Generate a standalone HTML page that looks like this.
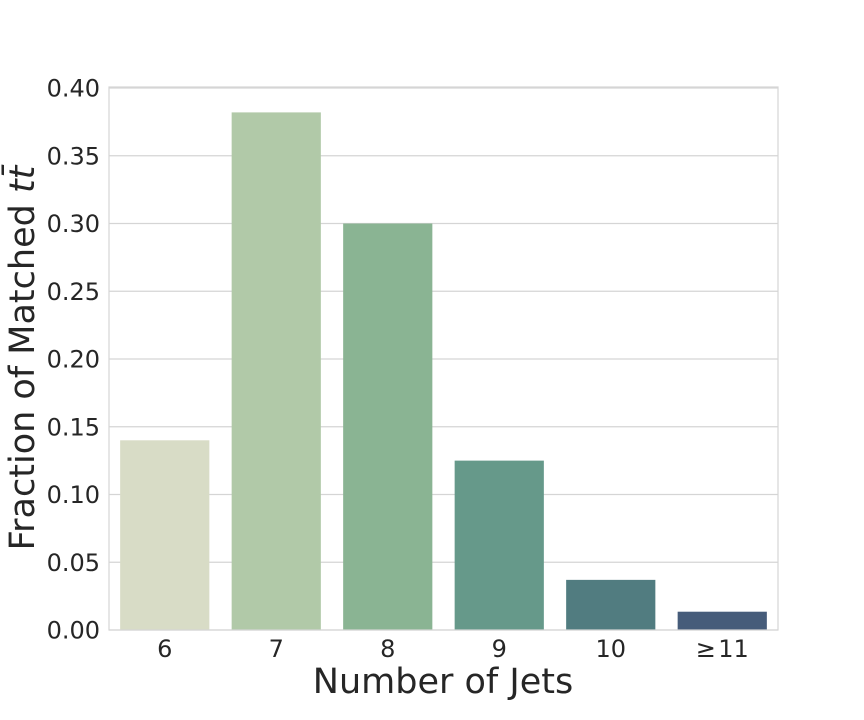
<!DOCTYPE html>
<html><head><meta charset="utf-8"><style>body{margin:0;background:#fff}svg{display:block}text{font-family:"DejaVu Sans","Liberation Sans",sans-serif;fill:#262626}</style></head>
<body>
<svg id="chart" width="864" height="720">
<g id="grid"></g>
<g id="bars"></g>
<rect x="109" y="87" width="669" height="543" fill="none" stroke="#d5d5d5" stroke-width="1.2"/>
<g id="yticks"></g>
<g id="xticks"></g>
<text x="443" y="693" font-size="35" text-anchor="middle">Number of Jets</text>
<text transform="translate(34,358) rotate(-90)" font-size="35" text-anchor="middle">Fraction of Matched <tspan font-style="italic">t</tspan><tspan font-style="italic">t̄</tspan></text>
</svg>
<script>
const categories=["6","7","8","9","10","≥\u200a11"];
const values=[0.14,0.382,0.30,0.125,0.037,0.0135];
const colors=["#d8dcc6","#b1c9a8","#8ab493","#66998a","#517c80","#465c7a"];
const yTicks=[0,0.05,0.10,0.15,0.20,0.25,0.30,0.35,0.40];
const X0=109,X1=778,Y0=630,Y1=88,YMAX=0.4;
const ns="http://www.w3.org/2000/svg";
function y(v){return Y0-(v/YMAX)*(Y0-Y1);}
const band=(X1-X0)/categories.length;
function xc(i){return X0+band*(i+0.5);}
const grid=document.getElementById('grid'),yt=document.getElementById('yticks'),xt=document.getElementById('xticks'),bars=document.getElementById('bars');
yTicks.forEach(t=>{
 const l=document.createElementNS(ns,'line');
 
 
 l.setAttribute('x1',X0);l.setAttribute('x2',X1);l.setAttribute('y1',y(t));l.setAttribute('y2',y(t));
 l.setAttribute('stroke','#d5d5d5');l.setAttribute('stroke-width','1.2');grid.appendChild(l);
 const tx=document.createElementNS(ns,'text');
 
 
 tx.setAttribute('x',100);tx.setAttribute('y',y(t)+8.5);tx.setAttribute('text-anchor','end');tx.setAttribute('font-size','24');
 tx.textContent=t.toFixed(2);yt.appendChild(tx);
});
categories.forEach((c,i)=>{
 const w=band*0.8;
 const r=document.createElementNS(ns,'rect');
 
 
 r.setAttribute('x',xc(i)-w/2);r.setAttribute('width',w);r.setAttribute('y',y(values[i]));r.setAttribute('height',Y0-y(values[i]));
 r.setAttribute('fill',colors[i]);bars.appendChild(r);
 const tx=document.createElementNS(ns,'text');
 
 
 tx.setAttribute('x',xc(i));tx.setAttribute('y',657);tx.setAttribute('text-anchor','middle');tx.setAttribute('font-size','24');
 tx.textContent=c;xt.appendChild(tx);
});
</script>
</body></html>
